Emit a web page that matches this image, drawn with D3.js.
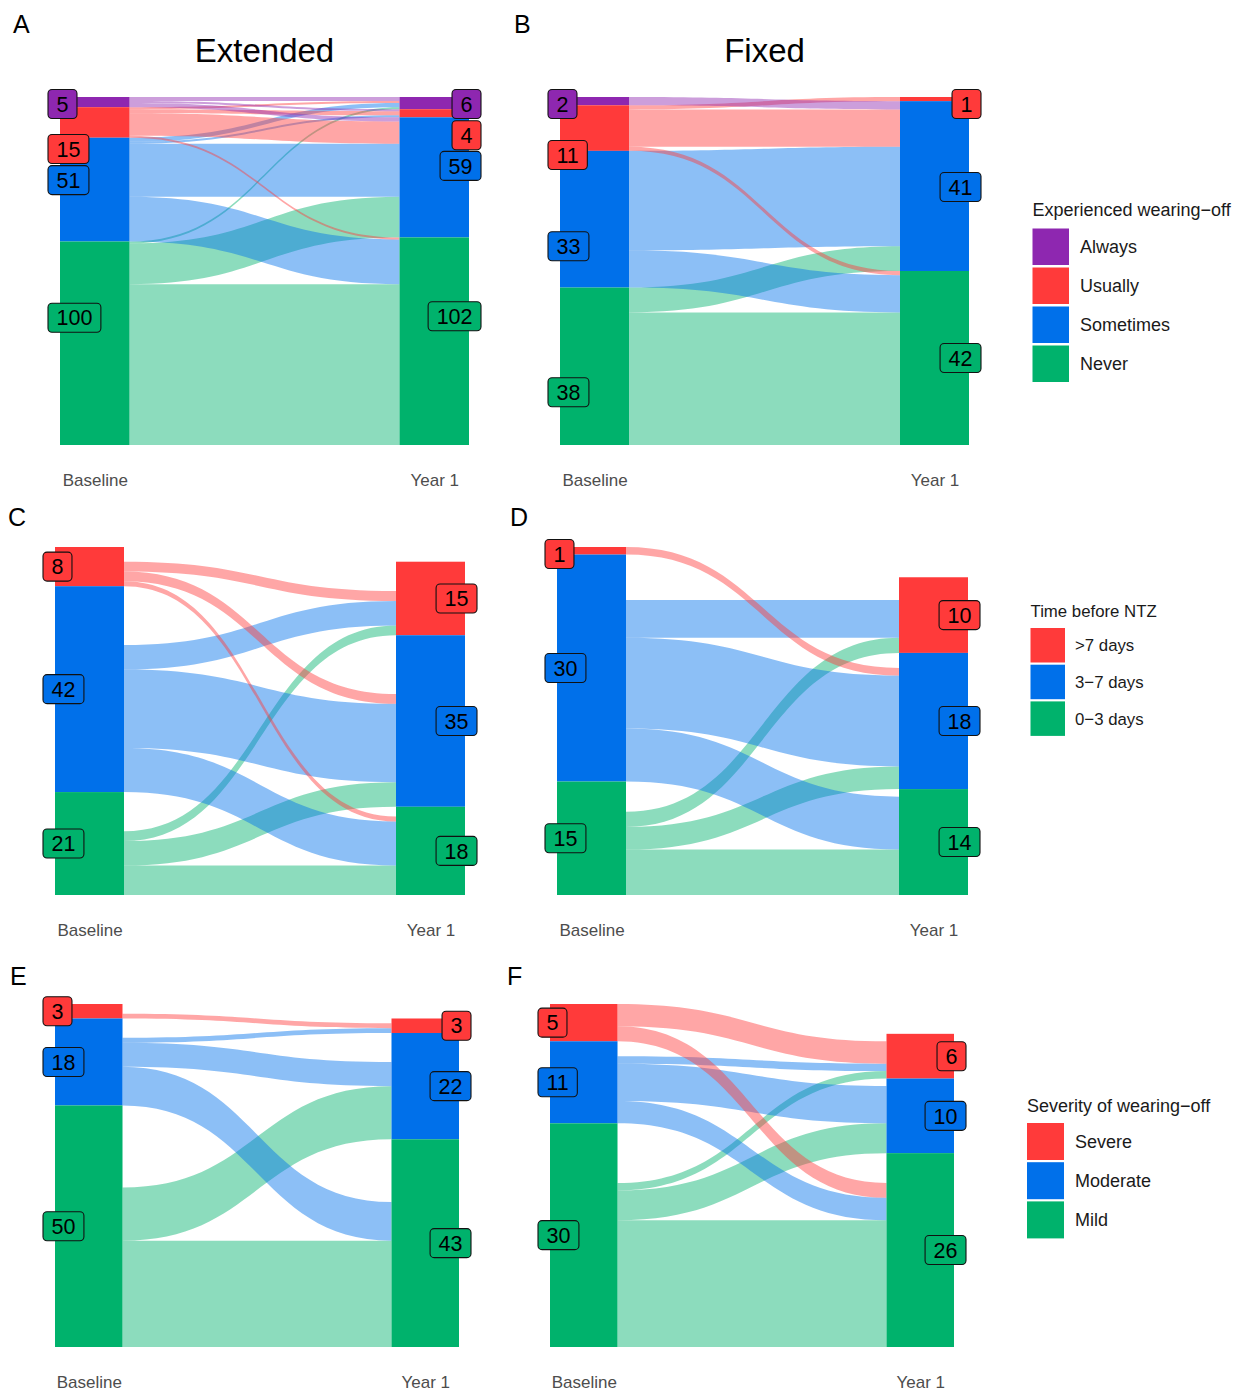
<!DOCTYPE html>
<html>
<head>
<meta charset="utf-8">
<script src="https://cdn.jsdelivr.net/npm/d3@7"></script>
<style>
  body { margin: 0; background: #fff; }
  svg text { font-family: "Liberation Sans", Arial, Helvetica, sans-serif; }
</style>
</head>
<body>
<svg id="chart" width="1240" height="1392"></svg>
<script>
// Category levels, listed top to bottom as they are stacked
const wearingOffLevels = ["Always", "Usually", "Sometimes", "Never"];
const ntzLevels = [">7 days", "3\u22127 days", "0\u22123 days"];
const severityLevels = ["Severe", "Moderate", "Mild"];
const timepoints = ["Baseline", "Year 1"];

// Patient transitions: rows = baseline category, columns = year-1 category
const wearingOffExtended = [
  [2, 1, 2, 0],
  [1, 2, 11, 1],
  [2, 1, 26, 22],
  [1, 0, 20, 79]
];
const wearingOffFixed = [
  [0, 0, 2, 0],
  [0, 1, 9, 1],
  [0, 0, 24, 9],
  [0, 0, 6, 32]
];
const ntzExtended = [
  [2, 2, 1],
  [5, 16, 9],
  [2, 5, 6]
];
const ntzExtendedNoYear1 = [3, 12, 8];      // answered at baseline only
const ntzExtendedNoBaseline = [6, 12, 2];   // answered at year 1 only
const ntzFixed = [
  [0, 1, 0],
  [5, 12, 7],
  [2, 3, 6]
];
const ntzFixedNoYear1 = [0, 6, 4];
const ntzFixedNoBaseline = [3, 2, 1];
const severityExtended = [
  [1, 0, 0],
  [1, 5, 8],
  [0, 11, 22]
];
const severityExtendedNoYear1 = [2, 4, 17];
const severityExtendedNoBaseline = [1, 6, 13];
const severityFixed = [
  [3, 0, 2],
  [1, 5, 3],
  [1, 4, 17]
];
const severityFixedNoYear1 = [0, 2, 8];
const severityFixedNoBaseline = [1, 1, 4];

// Palette
const PURPLE = "#8E27B0", RED = "#FF3A3A", BLUE = "#0070EA", GREEN = "#00B26C";
const wearingOffColors = [PURPLE, RED, BLUE, GREEN];
const threeColors = [RED, BLUE, GREEN];

const svg = d3.select("#chart");

// Layout of the six panels
const panels = [
  { letter: "A", title: "Extended", levels: wearingOffLevels, colors: wearingOffColors,
    flows: wearingOffExtended, x0: 60, x1: 469, barW: 69.5, top: 97, bottom: 445,
    letterPos: [13, 33], shiftL: [0, 26.5, -9.5, -25.5], shiftR: [0, 22, -11.5, -25] },
  { letter: "B", title: "Fixed", levels: wearingOffLevels, colors: wearingOffColors,
    flows: wearingOffFixed, x0: 560, x1: 969, barW: 69, top: 97, bottom: 445,
    letterPos: [514, 33], shiftL: [0, 27, 27, 26], shiftR: [0, 0, 1, 0] },
  { letter: "C", levels: ntzLevels, colors: threeColors,
    flows: ntzExtended, noYear1: ntzExtendedNoYear1, noBaseline: ntzExtendedNoBaseline,
    x0: 55, x1: 465, barW: 69, top: 547, bottom: 895, letterPos: [8, 526] },
  { letter: "D", levels: ntzLevels, colors: threeColors,
    flows: ntzFixed, noYear1: ntzFixedNoYear1, noBaseline: ntzFixedNoBaseline,
    x0: 557, x1: 968, barW: 69, top: 547, bottom: 895, letterPos: [510, 526] },
  { letter: "E", levels: severityLevels, colors: threeColors,
    flows: severityExtended, noYear1: severityExtendedNoYear1, noBaseline: severityExtendedNoBaseline,
    x0: 55, x1: 459, barW: 67.5, top: 1004, bottom: 1347, letterPos: [10, 985] },
  { letter: "F", levels: severityLevels, colors: threeColors,
    flows: severityFixed, noYear1: severityFixedNoYear1, noBaseline: severityFixedNoBaseline,
    x0: 550, x1: 954, barW: 67.5, top: 1004, bottom: 1347, letterPos: [507, 985] }
];

// Stack strata from the top of the axis downwards; returns [upper, lower] values
function stackFromTop(totals) {
  let cur = d3.sum(totals);
  return totals.map(n => { const hi = cur; cur -= n; return [hi, cur]; });
}

function drawPanel(p) {
  const m = p.levels.length;
  const noY1 = p.noYear1 || new Array(m).fill(0);
  const noBase = p.noBaseline || new Array(m).fill(0);
  const leftTot = p.flows.map((row, i) => d3.sum(row) + noY1[i]);
  const rightTot = p.levels.map((_, j) => d3.sum(p.flows, row => row[j]) + noBase[j]);
  const maxTotal = Math.max(d3.sum(leftTot), d3.sum(rightTot));

  const y = d3.scaleLinear().domain([0, maxTotal]).range([p.bottom, p.top]);
  const x = d3.scalePoint().domain(timepoints).range([p.x0 + p.barW / 2, p.x1 - p.barW / 2]);
  const color = d3.scaleOrdinal().domain(p.levels).range(p.colors);

  const leftStack = stackFromTop(leftTot);
  const rightStack = stackFromTop(rightTot);

  // lode positions at each axis
  const leftLode = p.flows.map((row, i) => {
    let cur = leftStack[i][0] - noY1[i];
    return row.map(n => { const seg = [cur, cur - n]; cur -= n; return seg; });
  });
  const rightLode = p.levels.map((_, j) => {
    let cur = rightStack[j][0] - noBase[j];
    return p.flows.map(row => { const seg = [cur, cur - row[j]]; cur -= row[j]; return seg; });
  });

  const g = svg.append("g");
  const xl = x(timepoints[0]) + p.barW / 2;
  const xr = x(timepoints[1]) - p.barW / 2;
  const xm = (xl + xr) / 2;

  const flowData = [];
  for (let i = m - 1; i >= 0; i--) {
    for (let j = m - 1; j >= 0; j--) {
      const n = p.flows[i][j];
      if (n > 0) flowData.push({ from: i, to: j, a: leftLode[i][j], b: rightLode[j][i] });
    }
  }
  const flowPath = d => {
    const pa = d3.path();
    const a0 = y(d.a[0]), a1 = y(d.a[1]), b0 = y(d.b[0]), b1 = y(d.b[1]);
    pa.moveTo(xl, a0);
    pa.bezierCurveTo(xm, a0, xm, b0, xr, b0);
    pa.lineTo(xr, b1);
    pa.bezierCurveTo(xm, b1, xm, a1, xl, a1);
    pa.closePath();
    return pa.toString();
  };
  g.append("g").selectAll("path").data(flowData).join("path")
    .attr("d", flowPath)
    .attr("fill", d => color(p.levels[d.from]))
    .attr("fill-opacity", 0.45);

  // strata
  const strata = [];
  p.levels.forEach((lv, k) => {
    if (leftTot[k] > 0) strata.push({ side: 0, k, n: leftTot[k], span: leftStack[k] });
    if (rightTot[k] > 0) strata.push({ side: 1, k, n: rightTot[k], span: rightStack[k] });
  });
  g.append("g").selectAll("rect").data(strata).join("rect")
    .attr("x", d => x(timepoints[d.side]) - p.barW / 2)
    .attr("width", p.barW)
    .attr("y", d => y(d.span[0]))
    .attr("height", d => y(d.span[1]) - y(d.span[0]))
    .attr("fill", d => color(p.levels[d.k]));

  // count labels
  const pad = 8.5, boxH = 29;
  const labels = g.append("g").selectAll("g").data(strata).join("g");
  labels.each(function (d) {
    const lg = d3.select(this);
    const shifts = d.side === 0 ? (p.shiftL || []) : (p.shiftR || []);
    let cy = (y(d.span[0]) + y(d.span[1])) / 2;
    cy = Math.max(cy, p.top + 7) + (shifts[d.k] || 0);
    const txt = lg.append("text")
      .attr("font-size", 21.5)
      .attr("fill", "#000")
      .attr("dy", "0.36em")
      .attr("y", cy)
      .text(d.n);
    const w = txt.node().getComputedTextLength() + 2 * pad;
    let bx;
    if (d.side === 0) {
      bx = x(timepoints[0]) - p.barW / 2 - 12;
    } else {
      bx = x(timepoints[1]) + p.barW / 2 + 12 - w;
    }
    txt.attr("x", bx + pad);
    lg.insert("rect", "text")
      .attr("x", bx).attr("y", cy - boxH / 2)
      .attr("width", w).attr("height", boxH)
      .attr("rx", 4).attr("ry", 4)
      .attr("fill", color(p.levels[d.k]))
      .attr("stroke", "#111").attr("stroke-width", 1.1);
  });

  // time axis
  const ax = g.append("g")
    .attr("transform", `translate(0,${p.bottom})`)
    .call(d3.axisBottom(x).tickSize(0).tickPadding(29));
  ax.select(".domain").remove();
  ax.selectAll("text")
    .attr("font-size", 17)
    .attr("fill", "#4D4D4D")
    .style("font-family", "'Liberation Sans', Arial, sans-serif");

  // panel tag and title
  svg.append("text")
    .attr("x", p.letterPos[0]).attr("y", p.letterPos[1])
    .attr("font-size", 25).attr("fill", "#000")
    .text(p.letter);
  if (p.title) {
    svg.append("text")
      .attr("x", (p.x0 + p.x1) / 2).attr("y", 62)
      .attr("text-anchor", "middle")
      .attr("font-size", 33).attr("fill", "#000")
      .text(p.title);
  }
}

panels.forEach(drawPanel);

// Legends
const legends = [
  { title: "Experienced wearing\u2212off", levels: wearingOffLevels, colors: wearingOffColors,
    x: 1032.5, titleY: 216, keyY: 228.5, key: 36.5, step: 39, textX: 1080, font: 18 },
  { title: "Time before NTZ", levels: ntzLevels, colors: threeColors,
    x: 1030.5, titleY: 617, keyY: 628, key: 34.5, step: 36.7, textX: 1075, font: 16.8 },
  { title: "Severity of wearing\u2212off", levels: severityLevels, colors: threeColors,
    x: 1027, titleY: 1111.5, keyY: 1123, key: 37, step: 39.2, textX: 1075, font: 18 }
];

legends.forEach(L => {
  const g = svg.append("g");
  g.append("text")
    .attr("x", L.x).attr("y", L.titleY)
    .attr("font-size", L.font).attr("fill", "#1A1A1A")
    .text(L.title);
  const items = g.selectAll("g.item").data(L.levels).join("g").attr("class", "item");
  items.append("rect")
    .attr("x", L.x)
    .attr("y", (d, i) => L.keyY + i * L.step)
    .attr("width", L.key).attr("height", L.key)
    .attr("fill", (d, i) => L.colors[i]);
  items.append("text")
    .attr("x", L.textX)
    .attr("y", (d, i) => L.keyY + i * L.step + L.key / 2)
    .attr("dy", "0.35em")
    .attr("font-size", L.font).attr("fill", "#1A1A1A")
    .text(d => d);
});
</script>
</body>
</html>
